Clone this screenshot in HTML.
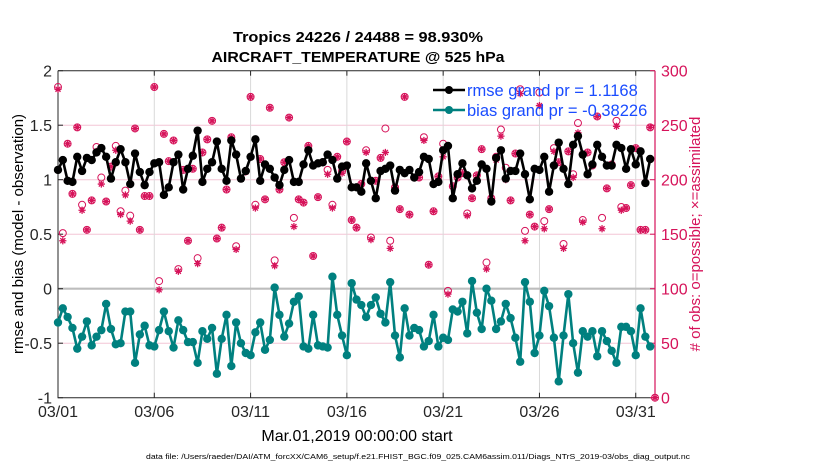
<!DOCTYPE html>
<html><head><meta charset="utf-8"><style>
html,body{margin:0;padding:0;background:#fff;}
svg{display:block;font-family:"Liberation Sans",Arial,sans-serif;}
</style></head><body>
<svg id="chart" width="830" height="470" viewBox="0 0 830 470" xmlns="http://www.w3.org/2000/svg">
<text x="358" y="42" text-anchor="middle" font-size="15" font-weight="bold" textLength="250" lengthAdjust="spacingAndGlyphs">Tropics 24226 / 24488 = 98.930%</text>
<text x="358" y="62" text-anchor="middle" font-size="15" font-weight="bold" textLength="293" lengthAdjust="spacingAndGlyphs">AIRCRAFT_TEMPERATURE @ 525 hPa</text>
<text transform="translate(23,234) rotate(-90)" text-anchor="middle" font-size="15">rmse and bias (model - observation)</text>
<text transform="translate(700,234) rotate(-90)" text-anchor="middle" font-size="15" fill="#d6135a">#  of obs: o=possible; ×=assimilated</text>
<text x="357" y="441" text-anchor="middle" font-size="16">Mar.01,2019 00:00:00 start</text>
<text x="146" y="459" font-size="7.5" textLength="544" lengthAdjust="spacingAndGlyphs">data file: /Users/raeder/DAI/ATM_forcXX/CAM6_setup/f.e21.FHIST_BGC.f09_025.CAM6assim.011/Diags_NTrS_2019-03/obs_diag_output.nc</text>
<g id="plot"></g>
</svg>
<script>
const rmse=[1.09,1.18,0.99,0.98,1.21,1.08,1.2,1.18,1.25,1.29,1.21,1.01,1.16,1.28,1.16,0.96,1.24,1.07,0.95,1.07,1.15,1.16,0.86,0.93,1.16,1.23,0.91,1.1,1.22,1.45,0.98,1.1,1.16,1.35,1.1,0.99,1.36,1.23,1.01,1.08,1.21,1.37,
0.99,1.14,1.1,1.02,0.95,1.09,1.18,0.98,0.98,1.14,1.27,1.13,1.15,1.16,1.23,1.18,1.01,1.12,1.13,0.93,0.93,0.89,1.15,0.99,0.83,1.08,1.1,1.13,0.9,1.09,1.06,1.09,1.02,1.07,1.21,1.19,0.96,0.98,1.27,1.31,0.83,1.05,1.15,
1.04,0.92,0.99,1.14,1.1,0.8,1.2,1.27,1.01,1.08,1.08,1.24,1.05,0.82,1.1,1.09,1.21,0.89,1.13,1.34,1.1,0.96,1.32,1.4,1.23,1.05,1.14,1.32,1.21,1.13,1.13,1.32,1.29,1.1,1.28,1.14,1.26,0.97,1.19];
const bias=[-0.31,-0.18,-0.26,-0.36,-0.55,-0.44,-0.3,-0.52,-0.44,-0.38,-0.14,-0.37,-0.51,-0.5,-0.21,-0.21,-0.68,-0.42,-0.34,-0.52,-0.53,-0.38,-0.21,-0.39,-0.54,-0.29,-0.38,-0.49,-0.49,-0.68,-0.39,-0.46,-0.36,-0.78,-0.46,-0.24,-0.71,-0.31,-0.5,-0.59,-0.61,-0.4,
-0.31,-0.56,-0.47,0.01,-0.24,-0.44,-0.32,-0.12,-0.07,-0.53,-0.55,-0.24,-0.52,-0.53,-0.54,0.11,-0.24,-0.43,-0.61,0.05,-0.1,-0.15,-0.26,-0.15,-0.08,-0.23,-0.31,0.06,-0.43,-0.63,-0.18,-0.43,-0.36,-0.38,-0.53,-0.48,-0.24,-0.53,-0.45,-0.47,-0.19,-0.21,-0.12,
-0.41,0.07,-0.22,-0.37,0,-0.11,-0.37,-0.3,-0.14,-0.27,-0.45,-0.67,0.06,-0.12,-0.59,-0.43,-0.02,-0.16,-0.45,-0.85,-0.43,-0.05,-0.5,-0.77,-0.39,-0.44,-0.39,-0.62,-0.39,-0.48,-0.57,-0.68,-0.35,-0.35,-0.39,-0.61,-0.18,-0.44,-0.53];
const possible=[285,151,233,187,248,177,154,181,230,202,180,212,231,171,190,167,247,154,185,185,285,107,242,217,236,118,209,144,210,128,225,237,254,146,156,191,239,139,201,208,276,177,
219,182,266,126,191,216,257,165,182,179,231,130,184,216,209,177,221,208,235,163,156,196,227,147,199,220,247,144,193,173,276,168,202,202,239,122,171,203,233,98,194,202,206,
169,183,204,228,124,183,221,246,211,181,224,283,153,168,157,280,162,173,229,216,141,226,205,252,163,225,213,258,165,192,214,254,175,174,195,229,154,154,248,0];
const assimilated=[283,144,233,187,248,172,154,181,226,196,180,212,227,168,186,162,247,154,185,185,285,99,242,217,236,116,209,144,210,123,225,237,254,146,156,191,239,136,201,207,276,174,
219,182,266,121,191,216,257,157,182,179,231,130,184,216,205,174,221,206,235,163,156,196,225,145,199,220,225,137,193,173,276,168,202,202,236,122,171,203,221,95,194,202,206,
167,183,204,228,118,183,218,240,200,181,224,279,144,168,157,268,155,173,226,216,137,226,202,243,161,225,213,258,155,192,214,249,172,174,195,229,154,154,248,0];
const leftTicks=[2,1.5,1,0.5,0,-0.5,-1];
const rightTicks=[300,250,200,150,100,50,0];
const xTickDays=[0,5,10,15,20,25,30];
const xTickLabels=["03/01","03/06","03/11","03/16","03/21","03/26","03/31"];

const X0=58,X1=655,Y0=70.7,Y1=397.7,NS="http://www.w3.org/2000/svg";
const xDay=d=>X0+(X1-X0)*d/31;
const xIdx=i=>xDay(i*0.25);
const yL=v=>Y1-(v+1)*(Y1-Y0)/3;
const yR=v=>Y1-v*(Y1-Y0)/300;
const g=document.getElementById('plot');
function mk(tag,at,parent){const e=document.createElementNS(NS,tag);for(const k in at)e.setAttribute(k,at[k]);(parent||g).appendChild(e);return e;}
const MAG="#d6135a",TEAL="#00807f";

rightTicks.forEach(t=>{if(t===0||t===300||t===100)return;
 const l=mk('line',{x1:X0,x2:X1,y1:yR(t),y2:yR(t),stroke:"#f3c6d6","stroke-width":1});
 
 });
xTickDays.forEach(d=>{if(d===0)return;
 const l=mk('line',{x1:xDay(d),x2:xDay(d),y1:Y0,y2:Y1,stroke:"#d9d9d9","stroke-width":1});
 
 });
const zl=mk('line',{x1:X0,x2:X1,y1:yL(0),y2:yL(0),stroke:"#bdbdbd","stroke-width":2.2});



const frame=mk('path',{d:`M${X0},${Y0}H${X1}M${X0},${Y0}V${Y1}H${X1}`,stroke:"#262626",fill:"none","stroke-width":1});


const ra=mk('line',{x1:X1,x2:X1,y1:Y0,y2:Y1,stroke:MAG,"stroke-width":1.2});


leftTicks.forEach(t=>{
 mk('line',{x1:X0,x2:X0+5,y1:yL(t),y2:yL(t),stroke:"#262626"});
 const tx=mk('text',{x:X0-6,y:yL(t)+6,"text-anchor":"end","font-size":16,fill:"#262626"});
 tx.textContent=t;
 
 });
rightTicks.forEach(t=>{
 mk('line',{x1:X1-5,x2:X1,y1:yR(t),y2:yR(t),stroke:MAG});
 const tx=mk('text',{x:X1+6,y:yR(t)+6,"font-size":16,fill:MAG});
 tx.textContent=t;
 
 });
xTickDays.forEach((d,i)=>{
 mk('line',{x1:xDay(d),x2:xDay(d),y1:Y0,y2:Y0+5,stroke:"#262626"});
 mk('line',{x1:xDay(d),x2:xDay(d),y1:Y1,y2:Y1-5,stroke:"#262626"});
 const tx=mk('text',{x:xDay(d),y:417,"text-anchor":"middle","font-size":16,fill:"#262626"});
 tx.textContent=xTickLabels[i];
 
 });

function star(cx,cy,r){return `M${cx-r},${cy}H${cx+r}M${cx},${cy-r}V${cy+r}M${cx-r*0.7},${cy-r*0.7}L${cx+r*0.7},${cy+r*0.7}M${cx-r*0.7},${cy+r*0.7}L${cx+r*0.7},${cy-r*0.7}`;}
possible.forEach((v,i)=>{
 const c=mk('circle',{cx:xIdx(i),cy:yR(v),r:3.5,fill:"none",stroke:MAG,"stroke-width":1});
 
 });
assimilated.forEach((v,i)=>{
 const p=mk('path',{d:star(xIdx(i),yR(v),3.6),stroke:MAG,"stroke-width":1.3,fill:"none"});
 
 });

function series(arr,color,name){
 const pl=mk('polyline',{points:arr.map((v,i)=>xIdx(i)+","+yL(v)).join(" "),fill:"none",stroke:color,"stroke-width":2.6,"stroke-linejoin":"round"});
 
 
 arr.forEach((v,i)=>{const c=mk('circle',{cx:xIdx(i),cy:yL(v),r:4.2,fill:color});
  
  });
}
series(rmse,"#000",'rmse');
series(bias,TEAL,'bias');

const lg=mk('g',{});


[[ "#000","rmse grand pr = 1.1168",90],[TEAL,"bias grand pr = -0.38226",110]].forEach(([c,t,y])=>{
 mk('line',{x1:433,x2:465,y1:y,y2:y,stroke:c,"stroke-width":2.6},lg);
 mk('circle',{cx:449,cy:y,r:4,fill:c},lg);
 const tx=mk('text',{x:467,y:y+6,"font-size":16.5,fill:"#1a4cff"},lg);
 tx.textContent=t;
 
 });
</script>
</body></html>
